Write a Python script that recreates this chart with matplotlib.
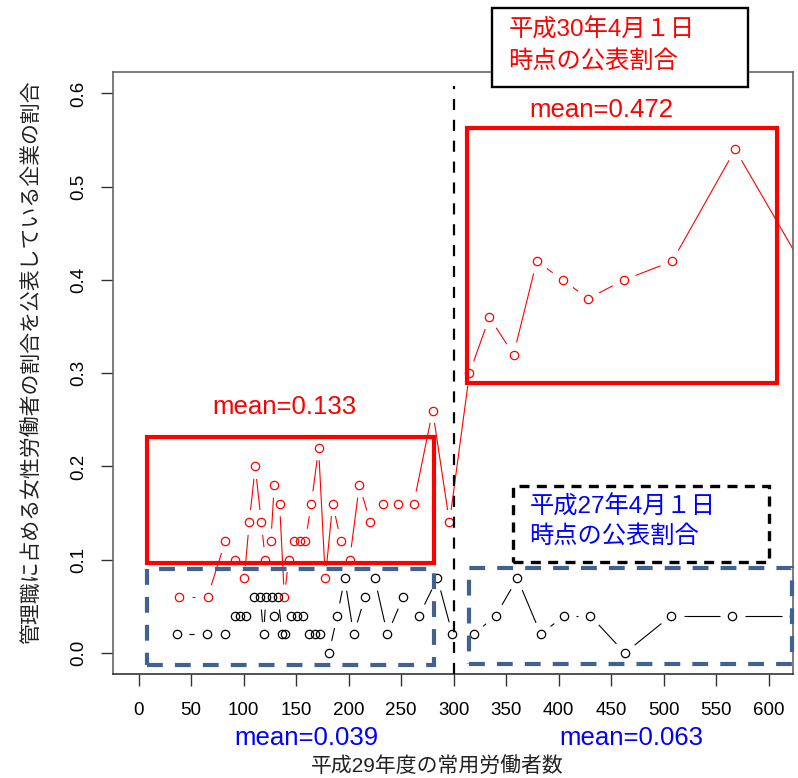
import matplotlib
matplotlib.use("Agg")
import matplotlib.pyplot as plt
import numpy as np
from matplotlib.patches import Rectangle

plt.rcParams['font.family'] = ['Liberation Sans', 'Noto Sans CJK JP']

# ---------------- data ----------------
x_red = [38.8, 65.7, 82.6, 91.4, 100.7, 105.4, 111.1, 116.9, 120.7, 126, 129.2, 134.3,
         138.8, 142.9, 147.6, 153.3, 158.8, 164.5, 171.4, 177.8, 184.8, 192.7, 201,
         210.2, 220.7, 232.4, 247.3, 261.9, 280, 296,
         315, 334, 357, 379, 404, 428, 462, 508, 568, 640]
y_red = [0.06, 0.06, 0.12, 0.10, 0.08, 0.14, 0.20, 0.14, 0.10, 0.12, 0.18, 0.16,
         0.06, 0.10, 0.12, 0.12, 0.12, 0.16, 0.22, 0.08, 0.16, 0.12, 0.10,
         0.18, 0.14, 0.16, 0.16, 0.16, 0.26, 0.14,
         0.30, 0.36, 0.32, 0.42, 0.40, 0.38, 0.40, 0.42, 0.54, 0.40]

x_blk = [36.5, 65.1, 81.9, 91.4, 96.9, 101.9, 110.2, 115.9, 119, 121.3, 127, 129.2,
         133, 136.5, 139.7, 145.4, 150.9, 156.2, 162.6, 167.6, 172.4, 181.3, 189.2,
         196.2, 204.8, 215.6, 224.8, 236.9, 251.8, 267, 284.5, 298.8,
         319, 340, 360.6, 383, 405, 430, 463, 507, 565, 624]
y_blk = [0.02, 0.02, 0.02, 0.04, 0.04, 0.04, 0.06, 0.06, 0.02, 0.06, 0.06, 0.04,
         0.06, 0.02, 0.02, 0.04, 0.04, 0.04, 0.02, 0.02, 0.02, 0.00, 0.04,
         0.08, 0.02, 0.06, 0.08, 0.02, 0.06, 0.04, 0.08, 0.02,
         0.02, 0.04, 0.08, 0.02, 0.04, 0.04, 0.00, 0.04, 0.04, 0.04]

x_ticks = list(range(0, 601, 50))
y_ticks = [0.0, 0.1, 0.2, 0.3, 0.4, 0.5, 0.6]
y_ticklabels = ["0.0", "0.1", "0.2", "0.3", "0.4", "0.5", "0.6"]

split_x = 300
mean_labels = ["mean=0.133", "mean=0.472", "mean=0.039", "mean=0.063"]
xlabel = "平成29年度の常用労働者数"
ylabel = "管理職に占める女性労働者の割合を公表している企業の割合"
note_2018 = ["平成30年4月１日", "時点の公表割合"]
note_2015 = ["平成27年4月１日", "時点の公表割合"]

# ---------------- figure ----------------
W, H = 798, 778
fig = plt.figure(figsize=(W / 100, H / 100), dpi=100)
ax = fig.add_axes([113.3 / W, 1 - 674 / H, (793 - 113.3) / W, (674 - 72) / H])
ax.set_xlim(-24, 623)
ax.set_ylim(-0.0225, 0.623)


def fx(px):
    return px / W


def fy(py):
    return 1 - py / H


def plot_b(xs, ys, color, gap=12.5, lw=0.8, ms=6.0):
    """R-style type='b': points joined by lines that stop short of the points."""
    pts = ax.transData.transform(np.column_stack([xs, ys]))
    inv = ax.transData.inverted()
    for p0, p1 in zip(pts[:-1], pts[1:]):
        d = p1 - p0
        L = np.hypot(d[0], d[1])
        if L <= 2 * gap:
            continue
        u = d / L
        a = inv.transform(p0 + u * gap)
        b = inv.transform(p1 - u * gap)
        ax.plot([a[0], b[0]], [a[1], b[1]], color=color, lw=lw,
                solid_capstyle='butt', zorder=2)
    ax.plot(xs, ys, 'o', mfc='none', mec=color, ms=ms, mew=0.9, zorder=3)


plot_b(x_red, y_red, '#ff0000')
plot_b(x_blk, y_blk, '#000000')

# axis styling
for s in ax.spines.values():
    s.set_color('#666666')
    s.set_linewidth(1.2)
ax.spines['bottom'].set_color('#333333')
ax.set_xticks(x_ticks)
ax.set_xticklabels([str(v) for v in x_ticks])
ax.set_yticks(y_ticks)
ax.set_yticklabels(y_ticklabels)
ax.tick_params(axis='both', direction='out', length=8.6, width=1.0,
               color='#333333', labelsize=13.5, labelcolor='black')
ax.tick_params(axis='x', pad=11.5)
ax.tick_params(axis='y', pad=10)
for lab in ax.get_yticklabels():
    lab.set_rotation(90)
    lab.set_va('center')
    lab.set_ha('right')

# vertical split line
ax.plot([split_x, split_x], [-0.0225, 0.608], color='black', lw=1.6,
        linestyle=(0, (5.0, 4.4)), clip_on=False, zorder=4)

# rectangles
ax.add_patch(Rectangle((8.0, 0.0962), 281.3 - 8.0, 0.2312 - 0.0962, fill=False,
                       ec='#ff0000', lw=3.0, zorder=5, clip_on=False))
ax.add_patch(Rectangle((312.4, 0.2898), 607.3 - 312.4, 0.5631 - 0.2898, fill=False,
                       ec='#ff0000', lw=3.0, zorder=5, clip_on=False))
blue = '#41628f'
ax.add_patch(Rectangle((8.0, -0.0129), 281.3 - 8.0, 0.0897 + 0.0129, fill=False,
                       ec=blue, lw=3.0, linestyle=(0, (3.8, 2.9)), zorder=5, clip_on=False))
ax.add_patch(Rectangle((314.9, -0.0118), 622.5 - 314.9, 0.0908 + 0.0118, fill=False,
                       ec=blue, lw=3.0, linestyle=(0, (3.8, 2.9)), zorder=5, clip_on=False))
ax.add_patch(Rectangle((356.2, 0.0972), 600.3 - 356.2, 0.1794 - 0.0972, fill=False,
                       ec='black', lw=2.4, linestyle=(0, (3.0, 2.2)), zorder=5, clip_on=False))

# top annotation box (outside the plot)
top_box = Rectangle((fx(491.7), fy(86.7)), (748.3 - 491.7) / W, (86.7 - 8.3) / H,
                    transform=fig.transFigure, fc='white', ec='black', lw=1.7, zorder=10)
fig.add_artist(top_box)
fig.text(fx(508.3), fy(30), note_2018[0], color='#ff0000', fontsize=17.5,
         ha='left', va='center', zorder=11)
fig.text(fx(508.3), fy(61.7), note_2018[1], color='#ff0000', fontsize=17.5,
         ha='left', va='center', zorder=11)

fig.text(fx(529.3), fy(506.7), note_2015[0], color='#0000ff', fontsize=17.5,
         ha='left', va='center', zorder=11)
fig.text(fx(529.3), fy(536.7), note_2015[1], color='#0000ff', fontsize=17.5,
         ha='left', va='center', zorder=11)

# mean labels
fig.text(fx(284), fy(406.7), mean_labels[0], color='#ff0000', fontsize=18.5,
         ha='center', va='center')
fig.text(fx(601), fy(110), mean_labels[1], color='#ff0000', fontsize=18.5,
         ha='center', va='center')
fig.text(fx(306), fy(738), mean_labels[2], color='#0000ff', fontsize=18.5,
         ha='center', va='center')
fig.text(fx(631), fy(738), mean_labels[3], color='#0000ff', fontsize=18.5,
         ha='center', va='center')

# axis titles
fig.text(fx(437.5), fy(767), xlabel, fontsize=15, color='#222222',
         ha='center', va='center')
fig.text(fx(32), fy(362.5), ylabel, fontsize=15, color='#222222', rotation=90,
         ha='center', va='center')

fig.savefig("out.png", dpi=100)
